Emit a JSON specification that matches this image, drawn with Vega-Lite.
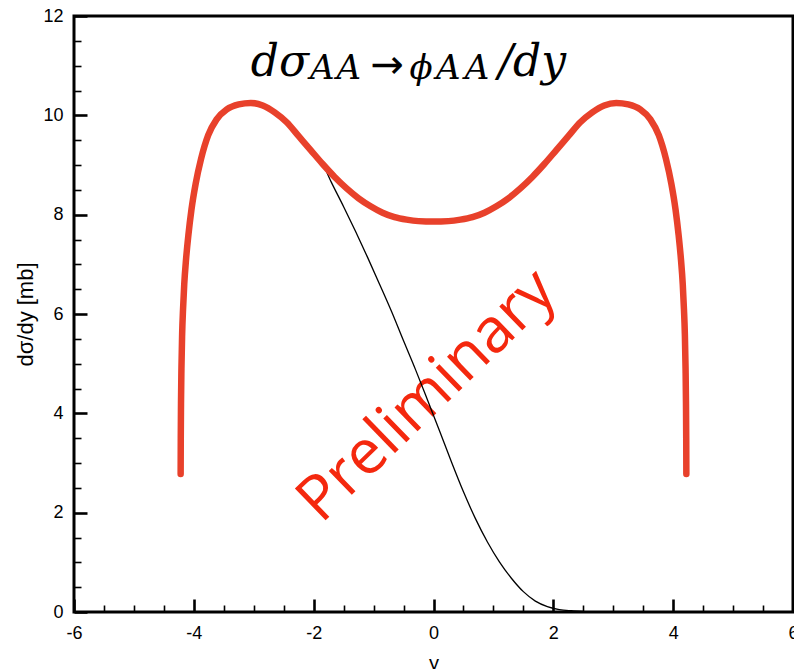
{
  "$schema": "https://vega.github.io/schema/vega-lite/v6.json",
  "width": 719,
  "height": 596,
  "autosize": "none",
  "padding": {"left": 74, "top": 16, "right": 1, "bottom": 57},
  "background": "white",
  "config": {
    "view": {"stroke": "black", "strokeWidth": 3},
    "axis": {
      "domain": false,
      "grid": false,
      "tickColor": "black",
      "labelColor": "black",
      "labelFont": "Liberation Sans",
      "labelFontSize": 18,
      "labelOverlap": false,
      "labelFlush": false,
      "titleFont": "Liberation Sans",
      "titleFontWeight": "normal",
      "titleColor": "black"
    }
  },
  "datasets": {
    "curves": [
      {"rapidity": -4.22, "dsdy": 2.78, "series": "total", "ord": 1},
      {"rapidity": -4.218, "dsdy": 3.5, "series": "total", "ord": 2},
      {"rapidity": -4.214, "dsdy": 4.2, "series": "total", "ord": 3},
      {"rapidity": -4.207, "dsdy": 4.9, "series": "total", "ord": 4},
      {"rapidity": -4.195, "dsdy": 5.6, "series": "total", "ord": 5},
      {"rapidity": -4.18, "dsdy": 6.1, "series": "total", "ord": 6},
      {"rapidity": -4.16, "dsdy": 6.6, "series": "total", "ord": 7},
      {"rapidity": -4.13, "dsdy": 7.1, "series": "total", "ord": 8},
      {"rapidity": -4.09, "dsdy": 7.6, "series": "total", "ord": 9},
      {"rapidity": -4.04, "dsdy": 8.1, "series": "total", "ord": 10},
      {"rapidity": -3.97, "dsdy": 8.62, "series": "total", "ord": 11},
      {"rapidity": -3.88, "dsdy": 9.12, "series": "total", "ord": 12},
      {"rapidity": -3.76, "dsdy": 9.6, "series": "total", "ord": 13},
      {"rapidity": -3.62, "dsdy": 9.92, "series": "total", "ord": 14},
      {"rapidity": -3.45, "dsdy": 10.12, "series": "total", "ord": 15},
      {"rapidity": -3.25, "dsdy": 10.22, "series": "total", "ord": 16},
      {"rapidity": -3.05, "dsdy": 10.25, "series": "total", "ord": 17},
      {"rapidity": -2.85, "dsdy": 10.2, "series": "total", "ord": 18},
      {"rapidity": -2.65, "dsdy": 10.06, "series": "total", "ord": 19},
      {"rapidity": -2.45, "dsdy": 9.86, "series": "total", "ord": 20},
      {"rapidity": -2.25, "dsdy": 9.58, "series": "total", "ord": 21},
      {"rapidity": -2.05, "dsdy": 9.3, "series": "total", "ord": 22},
      {"rapidity": -1.85, "dsdy": 9.02, "series": "total", "ord": 23},
      {"rapidity": -1.65, "dsdy": 8.76, "series": "total", "ord": 24},
      {"rapidity": -1.45, "dsdy": 8.53, "series": "total", "ord": 25},
      {"rapidity": -1.25, "dsdy": 8.33, "series": "total", "ord": 26},
      {"rapidity": -1.05, "dsdy": 8.17, "series": "total", "ord": 27},
      {"rapidity": -0.85, "dsdy": 8.04, "series": "total", "ord": 28},
      {"rapidity": -0.65, "dsdy": 7.95, "series": "total", "ord": 29},
      {"rapidity": -0.45, "dsdy": 7.9, "series": "total", "ord": 30},
      {"rapidity": -0.25, "dsdy": 7.87, "series": "total", "ord": 31},
      {"rapidity": 0.0, "dsdy": 7.86, "series": "total", "ord": 32},
      {"rapidity": 0.25, "dsdy": 7.87, "series": "total", "ord": 33},
      {"rapidity": 0.45, "dsdy": 7.9, "series": "total", "ord": 34},
      {"rapidity": 0.65, "dsdy": 7.95, "series": "total", "ord": 35},
      {"rapidity": 0.85, "dsdy": 8.04, "series": "total", "ord": 36},
      {"rapidity": 1.05, "dsdy": 8.17, "series": "total", "ord": 37},
      {"rapidity": 1.25, "dsdy": 8.33, "series": "total", "ord": 38},
      {"rapidity": 1.45, "dsdy": 8.53, "series": "total", "ord": 39},
      {"rapidity": 1.65, "dsdy": 8.76, "series": "total", "ord": 40},
      {"rapidity": 1.85, "dsdy": 9.02, "series": "total", "ord": 41},
      {"rapidity": 2.05, "dsdy": 9.3, "series": "total", "ord": 42},
      {"rapidity": 2.25, "dsdy": 9.58, "series": "total", "ord": 43},
      {"rapidity": 2.45, "dsdy": 9.86, "series": "total", "ord": 44},
      {"rapidity": 2.65, "dsdy": 10.06, "series": "total", "ord": 45},
      {"rapidity": 2.85, "dsdy": 10.2, "series": "total", "ord": 46},
      {"rapidity": 3.05, "dsdy": 10.25, "series": "total", "ord": 47},
      {"rapidity": 3.25, "dsdy": 10.22, "series": "total", "ord": 48},
      {"rapidity": 3.45, "dsdy": 10.12, "series": "total", "ord": 49},
      {"rapidity": 3.62, "dsdy": 9.92, "series": "total", "ord": 50},
      {"rapidity": 3.76, "dsdy": 9.6, "series": "total", "ord": 51},
      {"rapidity": 3.88, "dsdy": 9.12, "series": "total", "ord": 52},
      {"rapidity": 3.97, "dsdy": 8.62, "series": "total", "ord": 53},
      {"rapidity": 4.04, "dsdy": 8.1, "series": "total", "ord": 54},
      {"rapidity": 4.09, "dsdy": 7.6, "series": "total", "ord": 55},
      {"rapidity": 4.13, "dsdy": 7.1, "series": "total", "ord": 56},
      {"rapidity": 4.16, "dsdy": 6.6, "series": "total", "ord": 57},
      {"rapidity": 4.18, "dsdy": 6.1, "series": "total", "ord": 58},
      {"rapidity": 4.195, "dsdy": 5.6, "series": "total", "ord": 59},
      {"rapidity": 4.207, "dsdy": 4.9, "series": "total", "ord": 60},
      {"rapidity": 4.214, "dsdy": 4.2, "series": "total", "ord": 61},
      {"rapidity": 4.218, "dsdy": 3.5, "series": "total", "ord": 62},
      {"rapidity": 4.22, "dsdy": 2.78, "series": "total", "ord": 63},

      {"rapidity": -4.22, "dsdy": 2.78, "series": "one side", "ord": 1},
      {"rapidity": -4.218, "dsdy": 3.5, "series": "one side", "ord": 2},
      {"rapidity": -4.214, "dsdy": 4.2, "series": "one side", "ord": 3},
      {"rapidity": -4.207, "dsdy": 4.9, "series": "one side", "ord": 4},
      {"rapidity": -4.195, "dsdy": 5.6, "series": "one side", "ord": 5},
      {"rapidity": -4.18, "dsdy": 6.1, "series": "one side", "ord": 6},
      {"rapidity": -4.16, "dsdy": 6.6, "series": "one side", "ord": 7},
      {"rapidity": -4.13, "dsdy": 7.1, "series": "one side", "ord": 8},
      {"rapidity": -4.09, "dsdy": 7.6, "series": "one side", "ord": 9},
      {"rapidity": -4.04, "dsdy": 8.1, "series": "one side", "ord": 10},
      {"rapidity": -3.97, "dsdy": 8.62, "series": "one side", "ord": 11},
      {"rapidity": -3.88, "dsdy": 9.12, "series": "one side", "ord": 12},
      {"rapidity": -3.76, "dsdy": 9.6, "series": "one side", "ord": 13},
      {"rapidity": -3.62, "dsdy": 9.92, "series": "one side", "ord": 14},
      {"rapidity": -3.45, "dsdy": 10.12, "series": "one side", "ord": 15},
      {"rapidity": -3.25, "dsdy": 10.22, "series": "one side", "ord": 16},
      {"rapidity": -3.05, "dsdy": 10.25, "series": "one side", "ord": 17},
      {"rapidity": -2.85, "dsdy": 10.2, "series": "one side", "ord": 18},
      {"rapidity": -2.65, "dsdy": 10.06, "series": "one side", "ord": 19},
      {"rapidity": -2.45, "dsdy": 9.86, "series": "one side", "ord": 20},
      {"rapidity": -2.25, "dsdy": 9.58, "series": "one side", "ord": 21},
      {"rapidity": -2.05, "dsdy": 9.3, "series": "one side", "ord": 22},
      {"rapidity": -1.85, "dsdy": 9.02, "series": "one side", "ord": 23},
      {"rapidity": -1.7, "dsdy": 8.64, "series": "one side", "ord": 24},
      {"rapidity": -1.5, "dsdy": 8.16, "series": "one side", "ord": 25},
      {"rapidity": -1.3, "dsdy": 7.66, "series": "one side", "ord": 26},
      {"rapidity": -1.1, "dsdy": 7.14, "series": "one side", "ord": 27},
      {"rapidity": -0.9, "dsdy": 6.6, "series": "one side", "ord": 28},
      {"rapidity": -0.7, "dsdy": 6.05, "series": "one side", "ord": 29},
      {"rapidity": -0.5, "dsdy": 5.46, "series": "one side", "ord": 30},
      {"rapidity": -0.3, "dsdy": 4.88, "series": "one side", "ord": 31},
      {"rapidity": -0.1, "dsdy": 4.27, "series": "one side", "ord": 32},
      {"rapidity": 0.1, "dsdy": 3.65, "series": "one side", "ord": 33},
      {"rapidity": 0.3, "dsdy": 3.02, "series": "one side", "ord": 34},
      {"rapidity": 0.5, "dsdy": 2.42, "series": "one side", "ord": 35},
      {"rapidity": 0.7, "dsdy": 1.88, "series": "one side", "ord": 36},
      {"rapidity": 0.9, "dsdy": 1.41, "series": "one side", "ord": 37},
      {"rapidity": 1.1, "dsdy": 1.01, "series": "one side", "ord": 38},
      {"rapidity": 1.3, "dsdy": 0.68, "series": "one side", "ord": 39},
      {"rapidity": 1.5, "dsdy": 0.41, "series": "one side", "ord": 40},
      {"rapidity": 1.7, "dsdy": 0.22, "series": "one side", "ord": 41},
      {"rapidity": 1.9, "dsdy": 0.11, "series": "one side", "ord": 42},
      {"rapidity": 2.1, "dsdy": 0.05, "series": "one side", "ord": 43},
      {"rapidity": 2.3, "dsdy": 0.025, "series": "one side", "ord": 44},
      {"rapidity": 2.5, "dsdy": 0.01, "series": "one side", "ord": 45}
    ]
  },
  "encoding": {
    "x": {
      "field": "rapidity",
      "type": "quantitative",
      "scale": {"domain": [-6, 6], "nice": false, "zero": false},
      "axis": {
        "title": "y",
        "titleFontSize": 20,
        "titlePadding": 5,
        "values": [-6, -5.5, -5, -4.5, -4, -3.5, -3, -2.5, -2, -1.5, -1, -0.5, 0, 0.5, 1, 1.5, 2, 2.5, 3, 3.5, 4, 4.5, 5, 5.5, 6],
        "labelExpr": "datum.value % 2 === 0 ? '' + datum.value : ''",
        "labelPadding": 25,
        "tickSize": {"condition": {"test": "datum.value % 2 === 0", "value": -13}, "value": -7},
        "tickWidth": {"condition": {"test": "datum.value % 2 === 0", "value": 2.6}, "value": 1.6}
      }
    },
    "y": {
      "field": "dsdy",
      "type": "quantitative",
      "scale": {"domain": [0, 12], "nice": false, "zero": false},
      "axis": {
        "title": "dσ/dy [mb]",
        "titleFontSize": 22,
        "titlePadding": 5,
        "values": [0, 0.5, 1, 1.5, 2, 2.5, 3, 3.5, 4, 4.5, 5, 5.5, 6, 6.5, 7, 7.5, 8, 8.5, 9, 9.5, 10, 10.5, 11, 11.5, 12],
        "labelExpr": "datum.value % 2 === 0 ? '' + datum.value : ''",
        "labelPadding": 24,
        "tickSize": {"condition": {"test": "datum.value % 2 === 0", "value": -13}, "value": -7},
        "tickWidth": {"condition": {"test": "datum.value % 2 === 0", "value": 2.6}, "value": 1.6}
      }
    }
  },
  "layer": [
    {
      "data": {"values": [{"rapidity": -0.11, "dsdy": 4.35, "label": "Preliminary"}]},
      "mark": {"type": "text", "font": "Open Sans", "fontSize": 62, "angle": -44, "align": "center", "baseline": "middle", "color": "#f4280e"},
      "encoding": {"text": {"field": "label"}}
    },
    {
      "data": {"name": "curves"},
      "transform": [{"filter": "datum.series === 'one side'"}],
      "mark": {"type": "line", "color": "black", "strokeWidth": 1.3, "interpolate": "monotone"},
      "encoding": {"order": {"field": "ord", "type": "quantitative"}}
    },
    {
      "data": {"name": "curves"},
      "transform": [{"filter": "datum.series === 'total'"}],
      "mark": {"type": "line", "color": "#e8412b", "strokeWidth": 6.5, "strokeCap": "round", "strokeJoin": "round", "interpolate": "monotone"},
      "encoding": {"order": {"field": "ord", "type": "quantitative"}}
    },
    {
      "data": {"values": [
        {"rapidity": -3.05, "dsdy": 10.79, "part": "dσ"},
        {"rapidity": 1.08, "dsdy": 10.79, "part": "/dy"}
      ]},
      "mark": {"type": "text", "font": "DejaVu Serif", "fontStyle": "italic", "fontSize": 44, "align": "left", "baseline": "alphabetic", "color": "black"},
      "encoding": {"text": {"field": "part"}}
    },
    {
      "data": {"values": [
        {"rapidity": -2.06, "dsdy": 10.74, "part": "A"},
        {"rapidity": -1.62, "dsdy": 10.74, "part": "A"},
        {"rapidity": -0.40, "dsdy": 10.74, "part": "ϕ"},
        {"rapidity": 0.04, "dsdy": 10.74, "part": "A"},
        {"rapidity": 0.52, "dsdy": 10.74, "part": "A"}
      ]},
      "mark": {"type": "text", "font": "DejaVu Serif", "fontStyle": "italic", "fontSize": 34, "align": "left", "baseline": "alphabetic", "color": "black"},
      "encoding": {"text": {"field": "part"}}
    },
    {
      "data": {"values": [{"rapidity": -1.05, "dsdy": 10.76, "part": "→"}]},
      "mark": {"type": "text", "font": "DejaVu Sans", "fontSize": 40, "align": "left", "baseline": "alphabetic", "color": "black"},
      "encoding": {"text": {"field": "part"}}
    }
  ]
}
